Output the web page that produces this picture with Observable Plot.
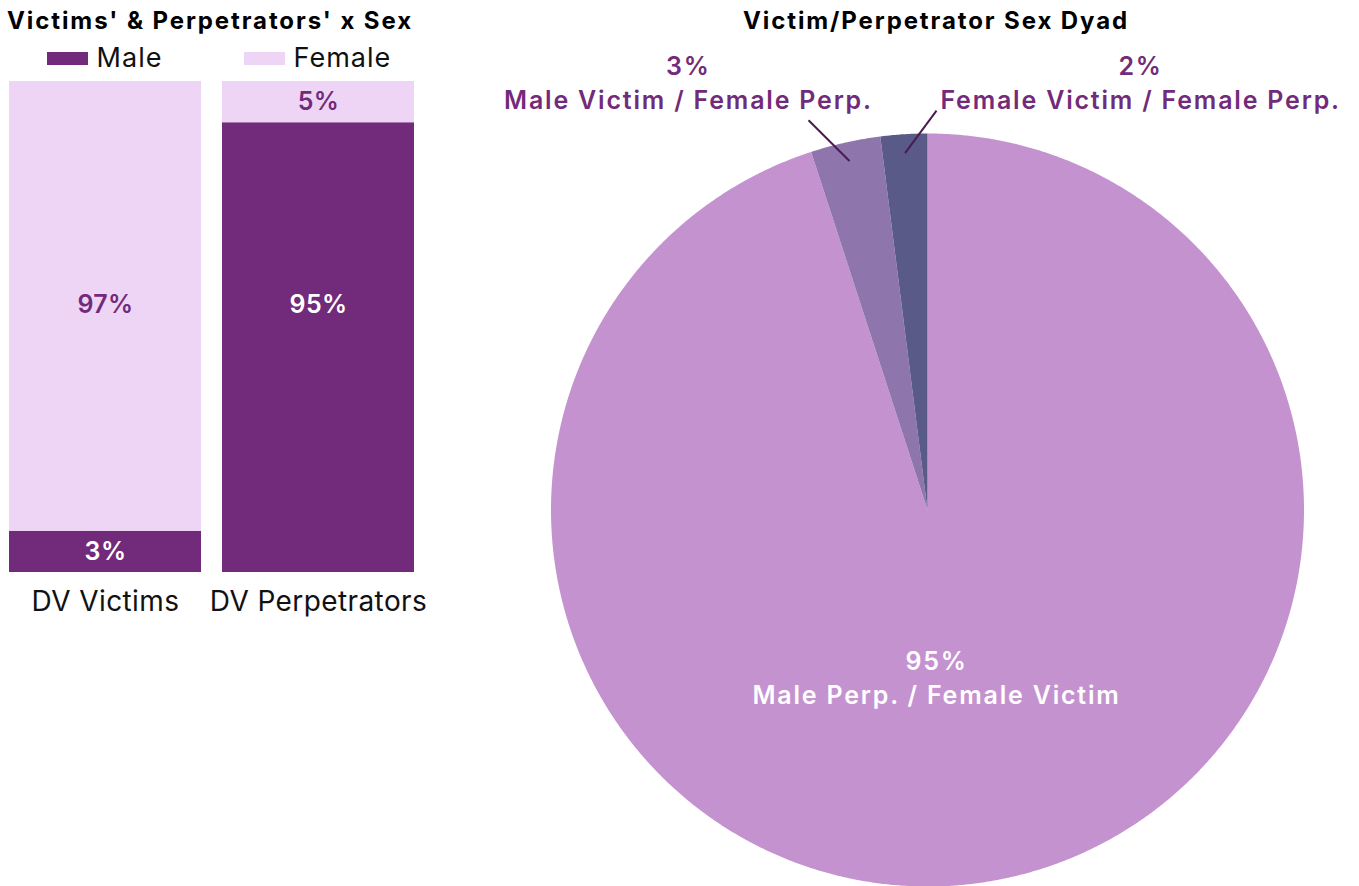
<!DOCTYPE html>
<html><head><meta charset="utf-8">
<script src="https://cdn.jsdelivr.net/npm/d3@7"></script>
<script src="https://cdn.jsdelivr.net/npm/@observablehq/plot@0.6"></script>
<style>
body{margin:0;background:#fff;font-family:Inter,"Open Sans",sans-serif;}
#root{position:relative;width:1359px;height:886px;overflow:hidden;background:#fff;}
.abs{position:absolute;}
.title{font-weight:700;font-size:24px;line-height:24px;color:#000;white-space:nowrap;text-align:center;letter-spacing:1.9px;}
.legend{font-size:27px;line-height:27px;color:#111;white-space:nowrap;letter-spacing:1px;}
.sw{display:inline-block;width:41px;height:13px;}
svg{overflow:visible;}
</style></head>
<body><div id="root"></div>
<script>
// ---------- data ----------
const groups = ["DV Victims", "DV Perpetrators"];
const sexes = ["Male", "Female"];
const victimsPct = [3, 97];          // Male, Female (labels)
const perpetratorsPct = [95, 5];     // Male, Female (labels)
const victimsDrawn = [8.4, 91.6];    // drawn segment heights
const perpetratorsDrawn = [91.6, 8.4];

const dyads = ["Male Perp. / Female Victim", "Male Victim / Female Perp.", "Female Victim / Female Perp."];
const dyadPct = [95, 3, 2];

// ---------- layout / style ----------
const FONT = "Inter, 'Open Sans', sans-serif";
const barColors = ["#722B7A", "#EFD5F5"];
const pieColors = ["#C592D0", "#8E76AC", "#5A5A88"];
const labelPurple = "#722B7A";
const barLabelAt = [[4.2, 54.5], [54.5, 95.8]]; // label y (share units) per group/sex
const pieLabelPos = [[0.024, 0.44], [-0.635, -1.138], [0.566, -1.138]];
const leaderEnd = [null, [-0.316, -1.035], [0.024, -1.061]];

const root = document.getElementById("root");

function addDiv(cls, html, left, top, width) {
  const d = document.createElement("div");
  d.className = "abs " + cls;
  d.innerHTML = html;
  d.style.left = left + "px"; d.style.top = top + "px";
  if (width) d.style.width = width + "px";
  root.appendChild(d);
  return d;
}

// Titles
addDiv("title", "Victims' &amp; Perpetrators' x Sex", 0, 9, 420);
addDiv("title", "Victim/Perpetrator Sex Dyad", 736, 9, 400);

// Legend
sexes.forEach((s, i) => {
  addDiv("legend", `<span class="sw" style="background:${barColors[i]};vertical-align:2px"></span> ${s}`, [47, 244][i], 44);
});

// ---------- left: stacked bars ----------
const rows = [];
groups.forEach((g, gi) => {
  const pct = gi === 0 ? victimsPct : perpetratorsPct;
  const drawn = gi === 0 ? victimsDrawn : perpetratorsDrawn;
  sexes.forEach((s, si) => rows.push({group: g, sex: s, pct: pct[si], share: drawn[si], labelAt: barLabelAt[gi][si]}));
});

const left = Plot.plot({
  width: 440, height: 640,
  marginTop: 81, marginBottom: 68, marginLeft: 8, marginRight: 25,
  style: {fontFamily: FONT, background: "transparent", overflow: "visible", letterSpacing: "0.4px"},
  x: {domain: groups, paddingInner: 0.098, paddingOuter: 0},
  y: {domain: [0, 100], axis: null},
  color: {domain: sexes, range: barColors},
  marks: [
    Plot.barY(rows, Plot.stackY({x: "group", y: "share", fill: "sex"})),
    Plot.text(rows.filter(d => d.sex === "Male"), {x: "group", y: "labelAt", text: d => d.pct + "%", fill: "white", fontSize: 25, fontWeight: 600}),
    Plot.text(rows.filter(d => d.sex === "Female"), {x: "group", y: "labelAt", text: d => d.pct + "%", fill: labelPurple, fontSize: 25, fontWeight: 600}),
    Plot.axisX({tickSize: 0, tickPadding: 19, fontSize: 28, label: null, fill: "#111", fontWeight: 400})
  ]
});
left.style.position = "absolute"; left.style.left = "0px"; left.style.top = "0px";
root.appendChild(left);

// ---------- right: pie ----------
const arcs = d3.pie().sort(null).value(d => d)(dyadPct);
const wedges = arcs.map((a, i) => {
  const pts = [[0, 0]];
  const n = Math.max(4, Math.ceil((a.endAngle - a.startAngle) / 0.005));
  for (let k = 0; k <= n; k++) {
    const t = a.startAngle + (a.endAngle - a.startAngle) * k / n;
    pts.push([Math.sin(t), -Math.cos(t)]);
  }
  pts.push([0, 0]);
  return {type: "Feature", properties: {dyad: dyads[i], pct: dyadPct[i]}, geometry: {type: "Polygon", coordinates: [pts]}};
});
const pieLabels = dyads.map((d, i) => ({dyad: d, pct: dyadPct[i], x: pieLabelPos[i][0], y: pieLabelPos[i][1]}));
const leaders = arcs.map((a, i) => {
  if (!leaderEnd[i]) return null;
  const m = (a.startAngle + a.endAngle) / 2;
  return {x1: 0.95 * Math.sin(m), y1: -0.95 * Math.cos(m), x2: leaderEnd[i][0], y2: leaderEnd[i][1]};
}).filter(Boolean);

const domainSquare = {type: "Polygon", coordinates: [[[-1, -1], [1, -1], [1, 1], [-1, 1], [-1, -1]]]};

const right = Plot.plot({
  width: 879, height: 846,
  marginTop: 93, marginLeft: 70, marginRight: 55, marginBottom: 0,
  style: {fontFamily: FONT, background: "transparent", overflow: "visible", letterSpacing: "1.8px"},
  projection: {type: "identity", domain: domainSquare, clip: false},
  color: {domain: dyads, range: pieColors},
  marks: [
    Plot.geo(wedges, {fill: d => d.properties.dyad}),
    Plot.link(leaders, {x1: "x1", y1: "y1", x2: "x2", y2: "y2", stroke: "#4A1A50", strokeWidth: 2}),
    Plot.text(pieLabels.slice(0, 1), {x: "x", y: "y", text: d => d.pct + "%\n" + d.dyad, fill: "white", fontSize: 25, fontWeight: 600, lineHeight: 1.36}),
    Plot.text(pieLabels.slice(1), {x: "x", y: "y", text: d => d.pct + "%\n" + d.dyad, fill: labelPurple, fontSize: 25, fontWeight: 600, lineHeight: 1.36})
  ]
});
right.style.position = "absolute"; right.style.left = "480px"; right.style.top = "40px";
root.appendChild(right);
</script>
</body></html>
